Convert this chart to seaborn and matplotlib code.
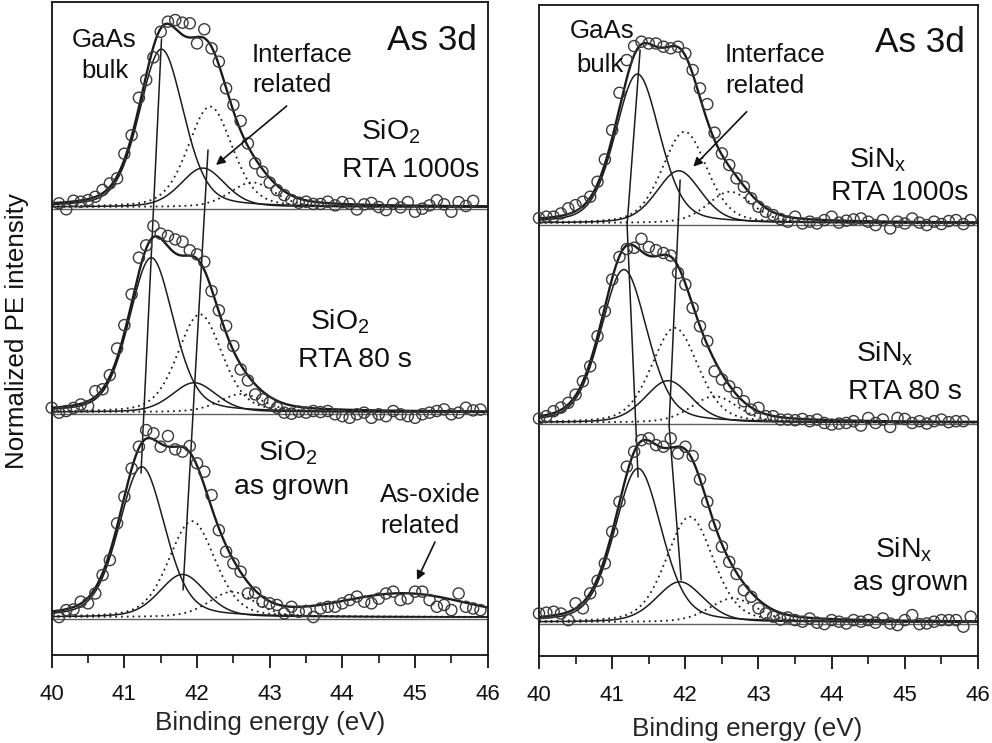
import numpy as np
import matplotlib
matplotlib.use("Agg")
import matplotlib.pyplot as plt
import seaborn as sns

# ---------------- data ----------------
E_GRID = [40.0, 40.1, 40.2, 40.3, 40.4, 40.5, 40.6, 40.7, 40.8, 40.9,
          41.0, 41.1, 41.2, 41.3, 41.4, 41.5, 41.6, 41.7, 41.8, 41.9,
          42.0, 42.1, 42.2, 42.3, 42.4, 42.5, 42.6, 42.7, 42.8, 42.9,
          43.0, 43.1, 43.2, 43.3, 43.4, 43.5, 43.6, 43.7, 43.8, 43.9,
          44.0, 44.1, 44.2, 44.3, 44.4, 44.5, 44.6, 44.7, 44.8, 44.9,
          45.0, 45.1, 45.2, 45.3, 45.4, 45.5, 45.6, 45.7, 45.8, 45.9]
NAN = float("nan")

# measured points (relative to each spectrum's baseline)
SIO2_1000 = [NAN, 0.018, -0.011, 0.031, 0.026, 0.034, 0.05, 0.083, 0.115, 0.14,
             0.26, 0.35, 0.533, 0.62, 0.73, 0.855, 0.904, 0.912, 0.899, 0.896,
             0.798, 0.867, 0.774, 0.709, 0.579, 0.498, 0.42, 0.31, 0.213, 0.172,
             0.119, 0.083, 0.058, 0.034, 0.021, 0.026, 0.015, 0.015, 0.026, 0.008,
             0.024, 0.016, -0.012, 0.013, 0.02, 0.0, -0.015, 0.016, -0.002, 0.024,
             -0.023, -0.008, 0.008, 0.033, 0.013, -0.023, 0.024, 0.005, 0.03, NAN]
SIO2_80 = [0.021, -0.003, 0.005, 0.02, 0.037, 0.029, 0.102, 0.111, 0.18, 0.31,
           0.424, 0.574, 0.753, 0.813, 0.907, 0.87, 0.859, 0.842, 0.831, 0.789,
           0.769, 0.733, 0.59, 0.496, 0.42, 0.322, 0.208, 0.154, 0.086, 0.062,
           0.046, 0.021, -0.003, -0.008, 0.002, -0.003, 0.005, 0.0, 0.005, -0.011,
           -0.02, -0.028, -0.011, -0.003, -0.028, -0.011, -0.02, 0.005, -0.011, -0.02,
           -0.028, -0.011, -0.003, 0.005, 0.013, -0.011, -0.003, 0.021, 0.008, 0.012]
SIO2_ASG = [NAN, 0.0, 0.034, 0.037, 0.075, 0.067, 0.115, 0.205, 0.278, 0.457,
            0.587, 0.725, 0.831, 0.912, 0.896, 0.831, 0.883, 0.818, 0.807, 0.834,
            0.75, 0.709, 0.595, 0.424, 0.319, 0.262, 0.221, 0.115, 0.119, 0.075,
            0.067, 0.059, 0.018, 0.05, 0.026, 0.03, 0.0, 0.042, 0.05, 0.05,
            0.067, 0.083, 0.1, 0.075, 0.067, 0.09, 0.115, 0.124, 0.083, 0.091,
            0.124, 0.124, 0.083, 0.05, 0.059, 0.034, 0.115, 0.05, 0.042, 0.034]
SINX_1000 = [0.025, 0.032, 0.032, 0.048, 0.074, 0.09, 0.107, 0.132, 0.207, 0.319,
             0.466, 0.653, 0.817, 0.887, 0.909, 0.9, 0.9, 0.884, 0.876, 0.884,
             0.85, 0.767, 0.675, 0.596, 0.453, 0.349, 0.291, 0.224, 0.182, 0.124,
             0.082, 0.057, 0.04, 0.02, 0.007, 0.032, -0.002, 0.007, -0.002, 0.015,
             0.032, 0.002, 0.012, 0.018, 0.023, 0.007, -0.01, 0.015, -0.027, 0.007,
             -0.002, 0.023, 0.002, -0.01, 0.007, -0.005, 0.01, 0.015, -0.005, 0.015]
SINX_80 = [0.02, 0.032, 0.057, 0.075, 0.099, 0.14, 0.207, 0.282, 0.433, 0.558,
           0.717, 0.83, 0.87, 0.876, 0.921, 0.88, 0.864, 0.85, 0.837, 0.75,
           0.692, 0.575, 0.483, 0.408, 0.257, 0.216, 0.182, 0.149, 0.107, 0.065,
           0.074, 0.032, 0.032, 0.015, 0.015, 0.012, 0.018, 0.007, 0.015, -0.002,
           -0.01, -0.005, -0.002, 0.007, -0.015, 0.023, -0.002, 0.015, -0.022, 0.023,
           0.018, -0.002, 0.007, -0.005, 0.007, 0.015, 0.002, 0.007, 0.007, NAN]
SINX_ASG = [0.043, 0.047, 0.052, 0.043, 0.01, 0.094, 0.069, 0.144, 0.207, 0.294,
            0.453, 0.603, 0.779, 0.854, 0.912, 0.921, 0.887, 0.879, 0.921, 0.845,
            0.879, 0.832, 0.715, 0.603, 0.486, 0.378, 0.302, 0.241, 0.16, 0.127,
            0.069, 0.043, 0.027, 0.013, 0.023, 0.01, 0.002, 0.018, -0.003, -0.01,
            0.01, 0.002, -0.007, 0.01, 0.002, 0.01, -0.003, 0.018, -0.007, -0.015,
            0.01, 0.035, -0.01, -0.007, 0.002, 0.01, 0.01, 0.01, -0.023, 0.027]

# fit components, order: SiO2 1000s, SiO2 80s, SiO2 as grown, SiNx 1000s, SiNx 80s, SiNx as grown
BULK_E = [41.51, 41.37, 41.24, 41.345, 41.16, 41.354]
BULK_A = [0.77, 0.753, 0.733, 0.747, 0.767, 0.77]
BULK2_E = [42.18, 42.04, 41.93, 41.99, 41.856, 42.06]
BULK2_A = [0.49, 0.477, 0.468, 0.458, 0.475, 0.528]
INTF_E = [42.08, 41.96, 41.80, 41.91, 41.765, 41.925]
INTF_A = [0.19, 0.143, 0.208, 0.262, 0.21, 0.202]
INTF2_E = [42.76, 42.61, 42.48, 42.61, 42.40, 42.65]
INTF2_A = [0.12, 0.088, 0.123, 0.157, 0.132, 0.119]
FWHM = [0.72, 0.72, 0.75, 0.72, 0.75, 0.76]
OXIDE_E = [NAN, NAN, 44.85, NAN, NAN, NAN]
OXIDE_A = [0.0, 0.0, 0.11, 0.0, 0.0, 0.0]
OXIDE_FWHM = 1.98
OFFSETS = [2.0, 1.0, 0.0, 2.0, 1.0, 0.0]
SPECTRA = [SIO2_1000, SIO2_80, SIO2_ASG, SINX_1000, SINX_80, SINX_ASG]

# guide lines joining peak positions (energy, stacked intensity)
GUIDE_L1_E, GUIDE_L1_Y = [41.511, 41.229], [2.82, 0.702]
GUIDE_L2_E, GUIDE_L2_Y = [42.151, 41.807], [2.278, 0.132]
GUIDE_R1_E, GUIDE_R1_Y = [41.382, 41.204, 41.354], [2.867, 1.99, 0.727]
GUIDE_R2_E, GUIDE_R2_Y = [41.929, 41.778, 41.943], [2.216, 0.987, 0.211]

X_TICKS = [40, 41, 42, 43, 44, 45, 46]
X_TICK_LABELS = ["40", "41", "42", "43", "44", "45", "46"]

# ---------------- style ----------------
sns.set_style("ticks")
plt.rcParams['font.family'] = ['Liberation Sans', 'DejaVu Sans']
plt.rcParams['mathtext.fontset'] = 'custom'
plt.rcParams['mathtext.rm'] = 'Liberation Sans'
plt.rcParams['mathtext.it'] = 'Liberation Sans:italic'

W, H = 992, 743
fig = plt.figure(figsize=(W / 100, H / 100), dpi=100)
axL = fig.add_axes([51.7 / W, 1 - 655 / H, (487.7 - 51.7) / W, (655 - 2) / H])
axR = fig.add_axes([539 / W, 1 - 656 / H, (978 - 539) / W, (656 - 5) / H])

INK = "#1c1c1c"
DOT = (0, (1.0, 2.2))
xf = np.linspace(40, 46, 601)


def pv(x, c, a, f, eta=0.3):
    d2 = (x - c) ** 2 / f ** 2
    return a * ((1 - eta) * np.exp(-4 * np.log(2) * d2) + eta / (1 + 4 * d2))


for i, ax in enumerate([axL, axL, axL, axR, axR, axR]):
    off = OFFSETS[i]
    ax.axhline(off - 0.008, color="#606060", lw=1.0, zorder=1)
    b1 = pv(xf, BULK_E[i], BULK_A[i], FWHM[i])
    b2 = pv(xf, BULK2_E[i], BULK2_A[i], FWHM[i])
    s1 = pv(xf, INTF_E[i], INTF_A[i], FWHM[i])
    s2 = pv(xf, INTF2_E[i], INTF2_A[i], FWHM[i])
    env = b1 + b2 + s1 + s2
    if OXIDE_A[i] > 0:
        env = env + OXIDE_A[i] * np.exp(-4 * np.log(2) * (xf - OXIDE_E[i]) ** 2 / OXIDE_FWHM ** 2)
    for comp in (b1, s1):
        sns.lineplot(x=xf, y=comp + off, ax=ax, color=INK, lw=1.1, sort=False, zorder=2)
    for comp in (b2, s2):
        sns.lineplot(x=xf, y=comp + off, ax=ax, color=INK, lw=1.3, ls=DOT, sort=False, zorder=2)
    sns.lineplot(x=xf, y=env + off, ax=ax, color=INK, lw=1.7, sort=False, zorder=3)
    yv = np.array(SPECTRA[i], dtype=float) + off
    sns.scatterplot(x=np.array(E_GRID), y=yv, ax=ax, marker="o", s=64,
                    facecolors="none", edgecolors="#3a3a3a", linewidth=1.0,
                    zorder=4, clip_on=False)

for ax, gx, gy in [(axL, GUIDE_L1_E, GUIDE_L1_Y), (axL, GUIDE_L2_E, GUIDE_L2_Y),
                   (axR, GUIDE_R1_E, GUIDE_R1_Y), (axR, GUIDE_R2_E, GUIDE_R2_Y)]:
    sns.lineplot(x=gx, y=gy, ax=ax, color=INK, lw=1.1, sort=False, zorder=3)

for ax, ylim, lab_xy in [(axL, (-0.185, 3.0), (0.5007, -0.1149)),
                         (axR, (-0.17, 3.093), (0.4738, -0.1229))]:
    ax.set_xlim(40, 46)
    ax.set_ylim(*ylim)
    ax.set_xticks(X_TICKS)
    ax.set_xticklabels(X_TICK_LABELS)
    ax.set_xticks([40.5, 41.5, 42.5, 43.5, 44.5, 45.5], minor=True)
    ax.set_yticks([])
    ax.set_ylabel("")
    for sp in ax.spines.values():
        sp.set_visible(True)
        sp.set_linewidth(1.3)
        sp.set_color("#111111")
    ax.tick_params(axis="x", which="major", direction="out", length=9, width=1.3,
                   labelsize=16, pad=12, colors="#111111")
    ax.tick_params(axis="x", which="minor", direction="out", length=6, width=1.3)
    ax.set_xlabel("Binding energy (eV)", fontsize=18.8)
    ax.xaxis.set_label_coords(*lab_xy)
    ax.xaxis.label.set_va("baseline")


def T(x, y, s, size=18.6, ha="center", va="baseline", **kw):
    fig.text(x / W, 1 - y / H, s, fontsize=size, ha=ha, va=va, color="#111111", **kw)


def ARROW(x1, y1, x2, y2):
    fig.add_artist(matplotlib.patches.FancyArrowPatch(
        (x1 / W, 1 - y1 / H), (x2 / W, 1 - y2 / H), transform=fig.transFigure,
        arrowstyle="-|>", mutation_scale=13, lw=1.2, color="#111111",
        shrinkA=0, shrinkB=0))


SAMPLE = 20.4
BIG = 25.3
T(17, 331, "Normalized PE intensity", size=18.7, rotation=90, va="center")

# left panel labels
T(104, 47, "GaAs")
T(105, 78, "bulk")
T(252, 62, "Interface", ha="left")
T(252, 92, "related", ha="left")
T(477, 50, "As 3d", size=BIG, ha="right")
T(391, 140, r"SiO$_2$", size=SAMPLE)
T(411, 177, "RTA 1000s", size=SAMPLE)
T(340, 330, r"SiO$_2$", size=SAMPLE)
T(355, 367, "RTA 80 s", size=SAMPLE)
T(288, 460, r"SiO$_2$", size=SAMPLE)
T(292, 494, "as grown", size=SAMPLE)
T(380, 502, "As-oxide", ha="left")
T(380, 533, "related", ha="left")
ARROW(286.7, 106, 216, 165)
ARROW(435, 542, 417, 580)

# right panel labels
T(602, 38, "GaAs")
T(600, 72, "bulk")
T(725, 62, "Interface", ha="left")
T(725, 93, "related", ha="left")
T(965, 52, "As 3d", size=BIG, ha="right")
T(878, 168, r"SiN$_\mathrm{x}$", size=SAMPLE)
T(900, 200, "RTA 1000s", size=SAMPLE)
T(885, 362, r"SiN$_\mathrm{x}$", size=SAMPLE)
T(905, 399, "RTA 80 s", size=SAMPLE)
T(904, 557, r"SiN$_\mathrm{x}$", size=SAMPLE)
T(911, 590, "as grown", size=SAMPLE)
ARROW(746.7, 111.7, 693.3, 166.7)

fig.savefig("out.png", dpi=100)
